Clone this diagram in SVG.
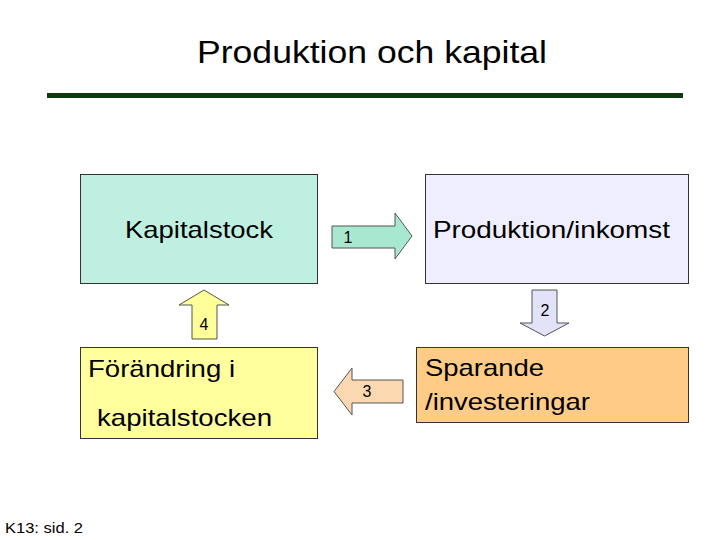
<svg xmlns="http://www.w3.org/2000/svg" width="720" height="540" viewBox="0 0 720 540">
<style>
text{font-family:"Liberation Sans",Arial,sans-serif;fill:#000}
.box{stroke:#333;stroke-width:1}
.arr{stroke:#555;stroke-width:1}
.lbl{font-size:24px}
.num{font-size:16px;text-anchor:middle}
</style>
<rect width="720" height="540" fill="#fff"/>
<text x="372" y="63" font-size="32" text-anchor="middle" textLength="350" lengthAdjust="spacingAndGlyphs">Produktion och kapital</text>
<rect x="47" y="93" width="636" height="5" fill="#0F3A0F"/>
<g id="kapitalstock">
<rect class="box" x="80.5" y="174.5" width="237" height="109" fill="#BFEFE1"/>
<text class="lbl" x="125" y="238" textLength="148" lengthAdjust="spacingAndGlyphs">Kapitalstock</text>
</g>
<g id="produktion">
<rect class="box" x="425.5" y="174.5" width="263" height="109" fill="#EEEEFF"/>
<text class="lbl" x="433" y="238" textLength="237" lengthAdjust="spacingAndGlyphs">Produktion/inkomst</text>
</g>
<g id="forandring">
<rect class="box" x="80.5" y="347.5" width="237" height="91" fill="#FFFF9E"/>
<text class="lbl" x="88" y="377" textLength="147" lengthAdjust="spacingAndGlyphs">Förändring i</text>
<text class="lbl" x="97" y="426" textLength="175" lengthAdjust="spacingAndGlyphs">kapitalstocken</text>
</g>
<g id="sparande">
<rect class="box" x="416.5" y="347.5" width="272" height="75" fill="#FFCC88"/>
<text class="lbl" x="425" y="376" textLength="119" lengthAdjust="spacingAndGlyphs">Sparande</text>
<text class="lbl" x="425" y="410" textLength="165" lengthAdjust="spacingAndGlyphs">/investeringar</text>
</g>
<g id="connectors">
<g id="arrow1">
<polygon class="arr" points="332,226 395,226 395,213 412,236 395,259 395,248 332,248" fill="#A8E8D0"/>
<text class="num" x="348" y="243">1</text>
</g>
<g id="arrow2">
<polygon class="arr" points="532,290 557,290 557,323 569,323 544.5,336 520,323 532,323" fill="#E2E2F8"/>
<text class="num" x="545" y="316">2</text>
</g>
<g id="arrow3">
<polygon class="arr" points="403,380 352,380 352,368 334,391.5 352,415 352,403 403,403" fill="#FCD8B0"/>
<text class="num" x="367" y="397">3</text>
</g>
<g id="arrow4">
<polygon class="arr" points="192,339 192,305 179,305 204,290 229,305 217,305 217,339" fill="#FFFF99"/>
<text class="num" x="204" y="330">4</text>
</g>
</g>
<text x="5" y="533" font-size="14" textLength="78" lengthAdjust="spacingAndGlyphs">K13: sid. 2</text>
</svg>
